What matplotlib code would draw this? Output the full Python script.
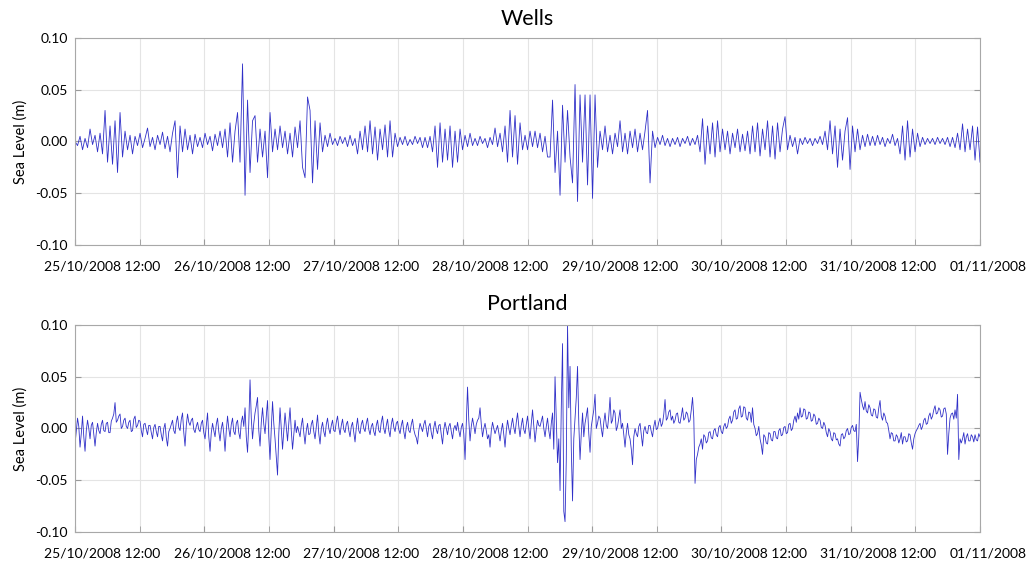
import numpy as np
import pandas as pd
import matplotlib
matplotlib.use("Agg")
import matplotlib.pyplot as plt
import matplotlib.dates as mdates

plt.rcParams['font.family'] = ['Lato', 'DejaVu Sans']

# Detided sea level residuals (mm), regular sampling 25/10/2008 12:00 -> 01/11/2008 12:00
wells_mm = [
    0, -4, 5, -8, 3, -6, 12, -3, 6, -10,
    8, -12, 30, -20, 15, -22, 20, -30, 28, -15,
    10, -8, 6, -12, 5, -4, 8, -6, 3, 13,
    -5, 4, -8, 6, -3, 9, -7, 5, -10, 8,
    20, -35, 15, -10, 12, -8, 6, -12, 7, -5,
    4, -6, 8, -3, 5, -9, 7, -4, 10, -6,
    12, -15, 18, -20, 10, 28, -20, 75, -52, 40,
    -30, 20, 25, -20, 12, -15, 10, -35, 28, -10,
    12, -8, 15, -6, 10, -12, 8, -15, 14, -6,
    20, -25, -35, 43, 30, -40, 20, -27, 18, -10,
    6, -5, 8, -3, 3, -4, 5, -2, 4, -5,
    6, -4, 3, -12, 10, -8, 15, -10, 20, -12,
    14, -18, 12, -8, 16, -15, 20, -15, 8, -5,
    4, -3, 5, -4, 2, -3, 5, -2, 4, -6,
    4, -6, 5, -10, 15, -25, 18, -20, 12, -18,
    15, -25, 10, -20, 12, -8, 6, -5, 8, -4,
    3, -4, 5, -2, 3, -6, 4, -3, 13, -5,
    8, -10, 15, -20, 30, -15, 25, -22, 18, -8,
    6, -8, 10, -5, 10, -6, 8, -10, 5, -15,
    -15, 40, -30, 10, -52, 35, -20, 30, -15, -40,
    55, -58, 45, -20, 45, -42, 45, -55, 45, -25,
    10, -8, 15, -10, 6, -12, 8, -5, 20, -10,
    8, -12, 10, -6, 12, -10, 8, -8, 10, 30,
    -40, 10, -6, 4, -3, 6, -4, 3, -5, 3,
    -3, 4, -5, 3, -2, 5, -4, 3, -3, 6,
    -10, 22, -22, 15, -12, 18, -15, 20, -10, 12,
    -8, 10, -12, 8, -6, 12, -10, 7, -9, 10,
    -12, 15, -10, 18, -14, 12, -8, 20, -15, 15,
    -17, 18, -10, 12, 24, -8, 6, -5, 4, -12,
    3, -3, 4, -2, 3, -4, 3, -2, 5, -3,
    10, -8, 20, -12, 15, -25, 12, -18, 10, 23,
    -27, 15, -10, 12, -8, 6, -5, 7, -4, 5,
    -4, 6, -3, 4, -5, 3, -2, 7, -4, 3,
    -12, 15, -18, 20, -15, 12, -10, 8, -5, 4,
    -3, 3, -2, 3, -3, 4, -2, 3, -3, 4,
    -5, 4, -6, 8, -8, 17, -10, 12, -8, 15,
    -18, 14, -20,
]

portland_mm = [
    -15, -3, 10, 2, -18, -5, 12, -8, -22, -2, 8, 0, -10, 3, 6, -6, -17, -4, 5, -2,
    -5, 4, 8, -2, -3, 5, 6, -4, -4, 7, 10, 14, 25, 6, 8, 12, 14, 0, 2, 8,
    10, 2, 0, 6, 8, -3, -2, 9, 12, 1, 3, 8, 7, -2, -8, 4, 5, -1, -6, 3,
    3, -4, -10, 1, 4, -3, -8, 2, 2, -6, -12, 0, 5, -9, -17, -3, 0, 4, 8, -2,
    -5, 6, 12, 1, -2, 9, 15, -4, -17, 3, 14, 6, 3, 8, 10, -1, -4, 2, 6, -1,
    -3, 5, 8, -4, -10, 3, 15, -8, -22, -4, 5, -2, -8, 4, 10, -3, -12, 0, 6, -5,
    -22, -2, 12, 0, -8, 4, 10, -3, -6, 5, 8, -4, -10, 6, 12, 2, 20, -8, -23, 5,
    47, 10, -10, 5, 15, 22, 30, -2, -17, 6, 20, 4, -5, 12, 27, -8, -30, 0, 26, 5,
    -10, -28, -45, -5, 20, 0, -20, -3, 15, 2, -12, 5, 20, -2, -20, -6, 8, -4, 2, -3,
    -8, 3, 10, -4, -15, -2, 5, -6, -5, 4, 8, -3, -10, 2, 13, -5, -15, 0, 6, -3,
    -8, 4, 10, 0, -5, 3, 8, -2, -3, 6, 12, 1, -6, 3, 9, -1, -4, 4, 7, -2,
    -8, 2, 6, -4, -13, 1, 10, -2, -5, 4, 8, 0, -3, 5, 10, -1, -6, 2, 5, -3,
    -7, 3, 8, -2, -4, 6, 12, 0, -5, 3, 9, -2, -8, 4, 10, 1, -3, 5, 7, -1,
    -5, 3, 8, -3, -10, 1, 6, -2, -4, 4, 9, -1, -6, -9, -15, -2, 5, 1, -3, 4,
    8, 0, -8, 2, 5, -4, -10, 1, 7, -1, -5, 3, 4, -6, -15, -1, 6, 0, -6, 2,
    5, -3, -10, 0, 3, -2, 6, -2, -8, 1, 5, -5, -30, 5, 40, 8, -12, 2, 10, 3,
    -5, 4, 8, 10, 20, 4, -8, 0, 5, -2, -10, -6, -18, -2, 6, 0, -5, -1, 3, -4,
    -12, -2, 5, -6, -18, -2, 8, 0, -6, 3, 10, 1, -5, 6, 15, 2, -8, 3, 10, -1,
    -5, 4, 12, 0, -10, 5, 18, 2, -13, -1, 8, 3, 2, 7, 12, 0, -8, 2, 10, -2,
    -10, 5, 15, -20, 50, 10, -33, -10, -60, 20, 82, -80, -90, -30, 100, 20, 60, -20, -70, -10,
    10, 30, 60, 5, -30, -5, 15, -8, 5, 12, 20, -5, -23, 2, 10, 18, 33, 0, 5, 12,
    10, 0, -8, 6, 15, 3, 0, 12, 30, 5, 8, 18, 15, -2, 2, 10, 18, 0, 5, -6,
    -18, -4, 5, -6, -10, -20, -35, -8, 0, -5, -8, 2, 5, -6, -17, -2, 2, -4, -5, 3,
    3, -3, -8, 2, 8, -1, 0, 6, 10, 2, 5, 14, 28, 8, 10, 16, 18, 8, 12, 5,
    8, 14, 15, 6, 5, 12, 20, 8, 10, 16, 14, 6, 8, 18, 30, 10, -53, -30, -25, -18,
    -15, -10, -20, -6, -8, -14, -12, -4, -3, -9, -10, -2, 0, -6, -8, 1, 3, -3, -5, 2,
    5, 0, 2, 9, 12, 5, 8, 16, 18, 9, 10, 19, 22, 11, 12, 21, 20, 10, 8, 16,
    15, 6, 20, 4, 0, -7, -5, 2, -10, -16, -25, -6, -8, -14, -15, -4, -5, -11, -12, -3,
    -3, -9, -10, -2, 0, -7, -6, 1, 2, -5, -4, 4, 5, -2, 0, 8, 12, 6, 15, 9,
    20, 11, 12, 19, 18, 9, 10, 16, 15, 7, 8, 14, 12, 4, 5, 10, 8, 1, 0, 6,
    3, -4, -8, 0, -3, -10, -12, -4, -5, -11, -10, -15, -17, -6, -5, -10, -8, -2, 0, -6,
    -5, 1, 3, -2, -3, 4, -32, -8, 35, 28, 22, 18, 26, 17, 15, 23, 20, 13, 12, 19,
    18, 11, 10, 20, 27, 12, 8, 15, 12, 6, 5, -2, -10, -4, -5, -12, -12, -6, -8, -14,
    -10, -4, -15, -8, -8, -13, -12, -5, -6, -14, -20, -10, -5, -2, 0, 3, 5, -1, 2, 8,
    10, 4, 5, 12, 15, 9, 12, 18, 22, 14, 15, 20, 18, 11, 12, 19, 20, 14, -25, -5,
    10, 14, 15, 9, 18, 10, 33, -30, -10, -14, -10, -4, -15, -8, -5, -12, -12, -6, -8, -13,
    -6, -11, -12, -5, -8,
]

tick_labels = ['25/10/2008 12:00', '26/10/2008 12:00', '27/10/2008 12:00',
               '28/10/2008 12:00', '29/10/2008 12:00', '30/10/2008 12:00',
               '31/10/2008 12:00', '01/11/2008']

start = pd.Timestamp('2008-10-25 12:00')
end = pd.Timestamp('2008-11-01 12:00')
tick_times = pd.date_range(start, end, freq='1D')
grid_times = pd.date_range(start, end, freq='12h')

panels = [
    ('Wells', np.array(wells_mm) / 1000.0, 9),
    ('Portland', np.array(portland_mm) / 1000.0, 11),
]

fig = plt.figure(figsize=(10.35, 5.65), dpi=100)
ax1 = fig.add_axes([0.0725, 0.5664, 0.8744, 0.3664])
ax2 = fig.add_axes([0.0725, 0.0584, 0.8744, 0.3664])

for ax, (title, series, title_pad) in zip([ax1, ax2], panels):
    times = pd.date_range(start, end, periods=len(series))
    ax.plot(times, series, color='#3030c8', linewidth=0.6)
    ax.set_xlim(start, end)
    ax.set_ylim(-0.10, 0.10)
    ax.set_yticks([-0.10, -0.05, 0.00, 0.05, 0.10])
    ax.set_yticklabels(['-0.10', '-0.05', '0.00', '0.05', '0.10'], fontsize=10)
    ax.set_xticks(mdates.date2num(grid_times), minor=True)
    ax.set_xticks(mdates.date2num(tick_times))
    ax.set_xticklabels([])
    # date labels start a little to the left of their tick
    for t, lbl in zip(tick_times, tick_labels):
        ax.annotate(lbl, xy=(mdates.date2num(t), 0), xycoords=('data', 'axes fraction'),
                    xytext=(-22, -15.5), textcoords='offset points',
                    ha='left', va='center', fontsize=10, annotation_clip=False)
    ax.grid(True, which='both', color='#e4e4e4', linewidth=0.8)
    ax.set_axisbelow(True)
    ax.tick_params(which='both', direction='in', length=4, color='#9a9a9a', pad=5,
                   right=True)
    for sp in ax.spines.values():
        sp.set_color('#a8a8a8')
    ax.set_ylabel('Sea Level (m)', fontsize=10.5, labelpad=6)
    ax.set_title(title, fontsize=15.5, pad=title_pad)

fig.savefig('out.png', dpi=100)
